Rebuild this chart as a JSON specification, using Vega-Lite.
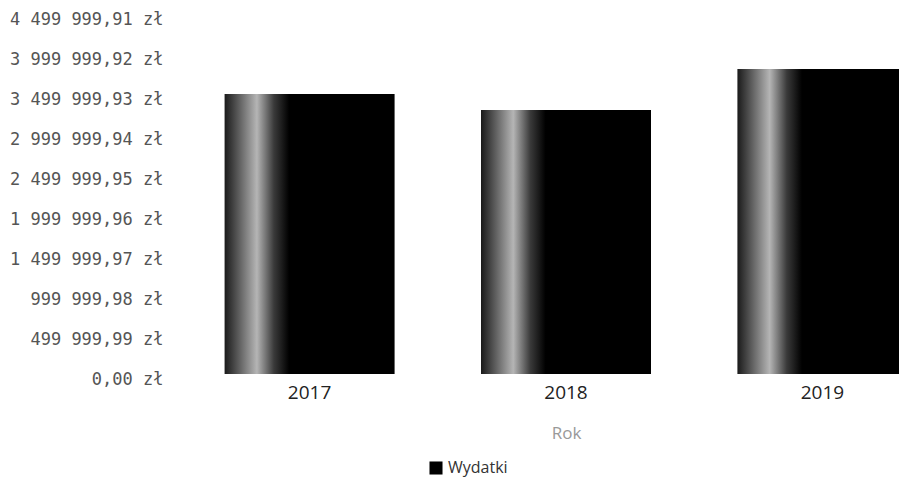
{
  "$schema": "https://vega.github.io/schema/vega-lite/v6.json",
  "autosize": {"type": "none"},
  "padding": {"left": 181, "top": 14, "right": 0, "bottom": 113},
  "width": 718,
  "height": 360,
  "background": "white",
  "config": {
    "view": {"stroke": null},
    "font": "Open Sans",
    "locale": {"number": {"decimal": ",", "thousands": " ", "grouping": [3], "currency": ["", " zł"]}}
  },
  "data": {
    "values": [
      {"Rok": "2017", "Wydatki": 3500000, "Seria": "Wydatki"},
      {"Rok": "2018", "Wydatki": 3300000, "Seria": "Wydatki"},
      {"Rok": "2019", "Wydatki": 3812500, "Seria": "Wydatki"}
    ]
  },
  "encoding": {
    "x": {
      "field": "Rok",
      "type": "ordinal",
      "scale": {"paddingInner": 0.337, "paddingOuter": 0.17, "range": [0, 770]},
      "axis": {
        "labelAngle": 0,
        "domain": false,
        "ticks": false,
        "labelPadding": 9,
        "labelFontSize": 19,
        "labelColor": "#222",
        "title": "Rok",
        "titleFontWeight": "normal",
        "titleColor": "#999",
        "titleFontSize": 17,
        "titlePadding": 23,
        "titleX": 385
      }
    },
    "y": {
      "field": "Wydatki",
      "type": "quantitative",
      "scale": {"domain": [0, 4499999.91], "nice": false, "zero": true},
      "axis": {
        "values": [0, 499999.99, 999999.98, 1499999.97, 1999999.96, 2499999.95, 2999999.94, 3499999.93, 3999999.92, 4499999.91],
        "format": "$,.2f",
        "grid": false,
        "domain": false,
        "ticks": false,
        "labelPadding": 18,
        "title": null,
        "labelFont": "DejaVu Sans Mono",
        "labelFontSize": 17,
        "labelColor": "#555",
        "labelOffset": 5
      }
    }
  },
  "layer": [
    {
      "mark": {
        "type": "bar",
        "clip": true,
        "color": {"gradient": "linear", "x1": 0, "y1": 0, "x2": 1, "y2": 0,
          "stops": [
            {"offset": 0, "color": "#1a1a1a"},
            {"offset": 0.08, "color": "#5a5a5a"},
            {"offset": 0.19, "color": "#b5b5b5"},
            {"offset": 0.29, "color": "#3a3a3a"},
            {"offset": 0.38, "color": "#000000"},
            {"offset": 1, "color": "#000000"}
          ]}
      }
    },
    {
      "mark": {"type": "bar", "opacity": 0, "clip": true},
      "encoding": {
        "color": {
          "field": "Seria",
          "type": "nominal",
          "scale": {"range": ["#000000"]},
          "legend": {
            "title": null,
            "orient": "none",
            "legendX": 247,
            "legendY": 446,
            "symbolType": "square",
            "symbolSize": 170,
            "symbolStrokeWidth": 0,
            "symbolOpacity": 1,
            "labelFontSize": 16,
            "labelColor": "#333",
            "encode": {
              "symbols": {
                "update": {
                  "fill": {"signal": "{gradient: 'linear', x1: 0, y1: 0, x2: 1, y2: 0, stops: [{offset: 0, color: '#555555'}, {offset: 0.35, color: '#bbbbbb'}, {offset: 0.6, color: '#000000'}, {offset: 1, color: '#000000'}]}"},
                  "opacity": {"value": 1},
                  "strokeWidth": {"value": 0}
                }
              }
            }
          }
        }
      }
    }
  ]
}
